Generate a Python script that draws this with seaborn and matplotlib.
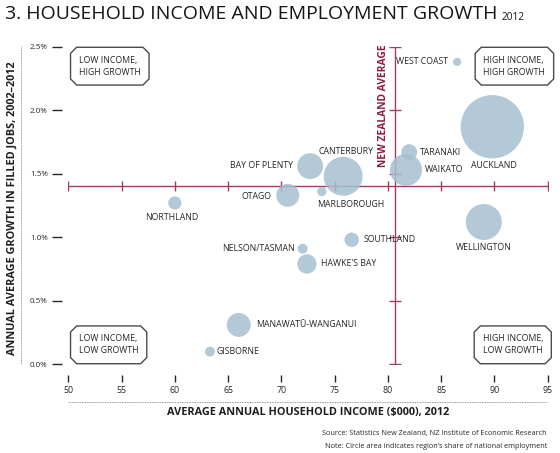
import matplotlib
matplotlib.use("Agg")
import matplotlib.pyplot as plt
import seaborn as sns
import pandas as pd
from matplotlib.lines import Line2D
from matplotlib.path import Path

# --- data -------------------------------------------------------------------
regions = [
    "WEST COAST", "AUCKLAND", "TARANAKI", "WAIKATO", "WELLINGTON",
    "CANTERBURY", "BAY OF PLENTY", "OTAGO", "MARLBOROUGH", "NORTHLAND",
    "SOUTHLAND", "NELSON/TASMAN", "HAWKE'S BAY", "MANAWATŪ-WANGANUI", "GISBORNE",
]
income = [86.5, 89.8, 82.0, 81.7, 89.0, 75.8, 72.7, 70.6, 73.8, 60.0,
          76.6, 72.0, 72.4, 66.0, 63.3]
growth = [2.38, 1.87, 1.67, 1.53, 1.12, 1.48, 1.56, 1.33, 1.36, 1.27,
          0.98, 0.91, 0.79, 0.31, 0.10]
share = [0.6, 36.5, 2.3, 9.3, 11.8, 13.8, 6.1, 4.8, 0.8, 1.6,
         1.9, 0.9, 3.4, 5.2, 0.9]

nz_avg_income = 80.7
nz_avg_growth = 1.405

x_ticks = [50, 55, 60, 65, 70, 75, 80, 85, 90, 95]
y_ticks = [0.0, 0.5, 1.0, 1.5, 2.0, 2.5]

quadrants = ["LOW INCOME,\nHIGH GROWTH", "HIGH INCOME,\nHIGH GROWTH",
             "LOW INCOME,\nLOW GROWTH", "HIGH INCOME,\nLOW GROWTH"]

# label placement: (dx px, dy px, ha)
label_pos = {
    "WEST COAST": (-9, 0, "right"),
    "AUCKLAND": (2, -39, "center"),
    "TARANAKI": (11, 0, "left"),
    "WAIKATO": (19, 0, "left"),
    "WELLINGTON": (0, -25, "center"),
    "CANTERBURY": (3, 25, "center"),
    "BAY OF PLENTY": (-17, 1, "right"),
    "OTAGO": (-16, -1, "right"),
    "MARLBOROUGH": (-5, -13, "left"),
    "NORTHLAND": (-3, -15, "center"),
    "SOUTHLAND": (12, 0, "left"),
    "NELSON/TASMAN": (-8, 0, "right"),
    "HAWKE'S BAY": (14, 0, "left"),
    "MANAWATŪ-WANGANUI": (17, 0, "left"),
    "GISBORNE": (7, 0, "left"),
}

df = pd.DataFrame({"region": regions, "income": income,
                   "growth": growth, "share": share})

FONT = ["Open Sans", "DejaVu Sans"]
TEXT = "#262626"
AVG = "#a63c62"
AVG_TEXT = "#8c1c44"
BUBBLE = "#a7c0d0"

sns.set_style("white")
plt.rcParams["font.family"] = FONT


def chamfer_box(x0, y0, width, height, mutation_size):
    pad = 0.95 * mutation_size
    c = 0.7 * mutation_size
    x0, y0 = x0 - pad, y0 - pad
    x1, y1 = x0 + width + 2 * pad, y0 + height + 2 * pad
    verts = [(x0 + c, y0), (x1 - c, y0), (x1, y0 + c), (x1, y1 - c),
             (x1 - c, y1), (x0 + c, y1), (x0, y1 - c), (x0, y0 + c),
             (x0 + c, y0)]
    return Path(verts, closed=True)


fig = plt.figure(figsize=(5.6, 4.53), dpi=100)
W, H = 560, 453
ax = fig.add_axes([68.3 / W, 1 - 364.3 / H, 479.4 / W, 317.6 / H])

# average cross-hair lines
ax.plot([x_ticks[0], x_ticks[-1]], [nz_avg_growth] * 2, color=AVG, lw=1.0, zorder=1)
ax.plot(x_ticks, [nz_avg_growth] * len(x_ticks), ls="none", marker="|",
        ms=6.5, mew=1.0, color=AVG, zorder=1)
ax.plot([nz_avg_income] * 2, [y_ticks[0], y_ticks[-1]], color=AVG, lw=1.0, zorder=1)
ax.plot([nz_avg_income] * len(y_ticks), y_ticks, ls="none", marker="_",
        ms=8, mew=1.0, color=AVG, zorder=1)

k = 57.0
sns.scatterplot(data=df, x="income", y="growth", size="share",
                sizes=(min(share) * k, max(share) * k),
                size_norm=(min(share), max(share)),
                color=BUBBLE, alpha=0.85, linewidth=0, legend=False,
                ax=ax, zorder=2, clip_on=False)

for r, xv, yv in zip(regions, income, growth):
    dx, dy, ha = label_pos[r]
    ax.annotate(r, (xv, yv), xytext=(dx, dy), textcoords="offset pixels",
                ha=ha, va="center", fontsize=6.3, color=TEXT, zorder=3)

ax.annotate("NEW ZEALAND AVERAGE", (nz_avg_income, 2.5), xytext=(-12, 2),
            textcoords="offset pixels", rotation=90, ha="center", va="top",
            fontsize=7.4, fontweight="bold", color=AVG_TEXT)

# quadrant boxes
box = dict(boxstyle=chamfer_box, fc="white", ec="#4a4a4a", lw=1.0)
q_pos = [(0.022, 0.972, "top"), (0.866, 0.972, "top"),
         (0.022, 0.028, "bottom"), (0.864, 0.028, "bottom")]
for txt, (qx, qy, va) in zip(quadrants, q_pos):
    ax.text(qx, qy, txt, transform=ax.transAxes, ha="left", va=va,
            fontsize=6.3, color=TEXT, linespacing=1.45, bbox=box, zorder=4)

ax.set_xlim(x_ticks[0], x_ticks[-1])
ax.set_ylim(y_ticks[0], y_ticks[-1])
for s in ax.spines.values():
    s.set_visible(False)
ax.spines["left"].set_position(("outward", 4.3))
ax.spines["bottom"].set_position(("outward", 7.5))
ax.set_xticks(x_ticks)
ax.set_xticklabels([str(v) for v in x_ticks])
ax.set_yticks(y_ticks)
ax.set_yticklabels([f"{v:.1f}%" for v in y_ticks])
ax.tick_params(axis="x", direction="out", length=5, width=1.0, color=TEXT,
               labelsize=6.3, labelcolor=TEXT, pad=3, bottom=True)
ax.tick_params(axis="y", direction="out", length=7, width=1.0, color=TEXT,
               labelsize=5.8, labelcolor=TEXT, pad=3.5, left=True)
ax.set_xlabel("")
ax.set_ylabel("")
ax.grid(False)

# dotted axis rules
fig.add_artist(Line2D([68 / W, 547 / W], [1 - 402 / H] * 2, transform=fig.transFigure,
                      ls=(0, (1, 1)), lw=0.6, color="#777777"))
fig.add_artist(Line2D([21 / W] * 2, [1 - 46 / H, 1 - 364 / H], transform=fig.transFigure,
                      ls=(0, (1, 1)), lw=0.6, color="#777777"))

fig.text(308 / W, 1 - 412 / H, "AVERAGE ANNUAL HOUSEHOLD INCOME ($000), 2012",
         ha="center", va="center", fontsize=7.8, fontweight="bold", color="#1e1e1e")
fig.text(12 / W, 1 - 208 / H, "ANNUAL AVERAGE GROWTH IN FILLED JOBS, 2002–2012",
         ha="center", va="center", rotation=90, fontsize=7.8, fontweight="bold",
         color="#1e1e1e")

fig.text(5 / W, 1 - 14 / H, "3. HOUSEHOLD INCOME AND EMPLOYMENT GROWTH",
         ha="left", va="center", fontsize=14.0, color="#151515")
fig.text(502 / W, 1 - 18 / H, "2012", ha="left", va="center", fontsize=7.3,
         color="#151515")

fig.text(547 / W, 1 - 433 / H,
         "Source: Statistics New Zealand, NZ Institute of Economic Research",
         ha="right", va="center", fontsize=5.2, color=TEXT)
fig.text(547 / W, 1 - 447 / H,
         "Note: Circle area indicates region’s share of national employment",
         ha="right", va="center", fontsize=5.2, color=TEXT)

fig.savefig("out.png", dpi=100)
